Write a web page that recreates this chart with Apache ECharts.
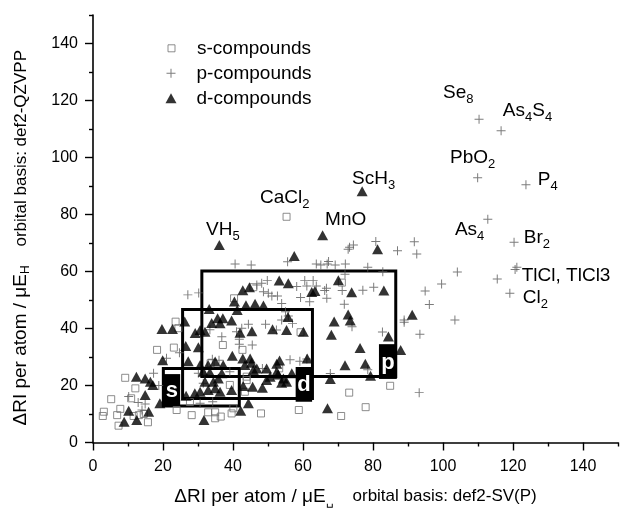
<!DOCTYPE html>
<html><head><meta charset="utf-8">
<script src="https://cdn.jsdelivr.net/npm/echarts@6/dist/echarts.min.js"></script>
<style>html,body{margin:0;padding:0;background:#fff}#c{width:620px;height:511px}</style>
</head><body><div id="c"></div><script>
const FONT = '"Liberation Sans", Arial, Helvetica, sans-serif';

const xMajorTicks = [0, 20, 40, 60, 80, 100, 120, 140];
const xMinorTicks = [10, 30, 50, 70, 90, 110, 130, 150];
const yMajorTicks = [0, 20, 40, 60, 80, 100, 120, 140];
const yMinorTicks = [10, 30, 50, 70, 90, 110, 130, 150];

const seriesNames = ['s-compounds', 'p-compounds', 'd-compounds'];

const sCompounds = [
[2.8,9.3],[3.1,10.8],[5.2,15.2],[6.9,9.6],[7.3,5.9],[7.8,11.8],[9.2,22.7],[10.9,15.5],[11.6,9.3],[12.1,19.0],[13.1,9.6],[14.5,10.0],[15.7,7.1],[18.3,32.5],[23.1,33.3],[23.6,42.4],[24.4,40.1],[23.9,11.4],[27.7,14.2],[28.2,9.6],[32.9,10.6],[33.6,27.8],[34.9,10.6],[34.9,8.5],[36.5,9.1],[37.1,34.2],[39.1,20.2],[39.6,10.2],[40.1,12.0],[40.3,50.6],[42.7,32.5],[43.4,17.8],[43.9,23.1],[43.9,21.9],[45.8,54.5],[48.0,10.2],[53.2,26.0],[55.3,79.2],[58.8,11.4],[59.3,38.7],[71.1,56.1],[70.9,9.3],[73.2,17.5],[77.9,12.4],[84.9,19.9]
];

const pCompounds = [
[110.3,113.4],[116.6,109.4],[109.9,92.9],[123.7,90.4],[112.8,78.3],[120.3,70.3],[121.1,61.5],[120.6,60.7],[115.5,57.4],[119.1,52.4],
[91.8,70.4],[92.5,66.1],[104.1,59.8],[99.6,55.6],[94.9,53.2],[96.1,48.4],[103.4,43.0],[88.9,43.0],[88.9,42.2],[93.4,38.0],[82.7,38.8],[78.5,25.5],[67.8,24.2],[93.2,17.5],
[80.8,70.5],[87.0,67.3],[72.9,67.8],[73.3,68.5],[74.4,69.3],[55.6,63.4],[40.6,62.6],[45.2,62.3],
[63.8,62.6],[65.1,62.3],[66.9,62.6],[67.3,63.5],[69.2,62.3],[72.1,62.6],[78.5,61.5],[82.8,59.9],[72.0,59.0],
[46.8,55.3],[48.2,55.9],[49.8,56.8],[58.2,54.7],[60.5,56.8],[61.1,54.9],[62.9,56.8],[63.8,54.9],[66.7,54.1],[66.2,53.3],[66.8,50.6],
[77.1,53.4],[80.2,54.5],[71.2,53.3],[71.8,48.5],[74.0,40.6],[61.9,49.4],
[48.7,52.9],[50.1,52.4],[51.1,51.4],[52.7,51.4],[59.3,50.9],[53.9,48.8],[55.0,45.9],[55.8,44.4],
[49.3,41.5],[53.9,43.0],[57.0,41.8],[52.4,39.5],[45.5,34.2],[44.4,41.5],[42.5,40.1],[41.0,38.9],[33.4,39.6],[36.8,37.1],
[41.8,36.2],[41.8,34.5],[34.1,29.2],[36.0,28.9],[48.4,26.0],[56.3,29.0],[59.1,28.5],[61.1,29.3],
[31.5,20.8],[30.6,13.8],[34.2,14.3],[30.1,24.3],[32.0,23.7],[39.1,24.8],
[24.7,31.5],[21.0,29.6],[17.3,24.3],[18.8,20.0],[10.2,16.1],[14.0,11.4],[12.9,14.0],[14.9,13.5],[27.1,51.8],[30.2,52.5]
];

const dCompounds = [
[8.9,7.3],[12.5,7.9],[10.2,11.1],[15.9,10.8],[19.1,13.8],[14.9,16.7],[17.1,20.2],[16.4,21.3],[14.9,22.5],[12.4,23.1],[19.9,28.9],
[26.6,16.4],[29.1,17.3],[30.6,17.8],[32.9,18.4],[34.9,19.0],[36.3,17.8],[39.6,18.4],[42.9,19.8],[45.6,19.6],[48.4,19.2],[49.6,21.9],[52.5,24.8],
[31.7,7.9],[42.2,11.1],[44.4,13.8],[67.0,12.0],
[31.5,24.8],[33.4,24.6],[32.0,21.3],[34.4,21.3],[35.8,22.5],[36.8,24.3],[50.6,23.1],[53.9,21.0],[55.3,21.3],[56.8,24.3],[52.9,23.9],[54.4,22.5],[45.8,25.4],
[27.2,28.5],[30.6,27.2],[32.9,27.2],[34.9,28.4],[37.2,27.2],[39.8,30.4],[42.8,29.5],[44.9,29.5],[43.4,27.2],[45.3,28.0],[46.8,26.0],[49.6,26.0],[52.5,27.6],[53.3,28.8],[61.2,29.5],
[26.5,33.9],[30.1,33.4],
[19.7,39.8],[22.7,39.8],[26.2,42.5],[29.2,38.4],[30.6,39.5],[32.0,38.9],[33.9,41.9],[35.6,43.6],[37.1,43.6],[36.3,41.8],[39.6,42.8],[42.0,38.5],[45.4,39.0],[51.3,39.7],[55.3,39.5],[60.1,38.9],[55.7,44.0],
[33.2,46.8],[41.2,46.5],[40.4,49.5],[43.7,48.2],[46.3,48.7],[48.7,48.1],
[42.8,53.4],[44.7,54.5],[53.2,56.8],[55.8,55.9],[62.5,52.8],[63.4,53.2],[70.1,56.9],[73.9,52.7],[83.1,53.3],
[72.9,44.9],[73.5,42.8],[68.9,42.5],[68.1,37.8],[84.4,37.2],[91.2,44.8],[87.9,32.5],[76.3,33.2],[77.8,27.6],[79.3,23.4],[72.0,27.1],[67.8,22.3],
[57.5,65.4],[81.3,67.8],[65.6,72.7],[76.9,88.2],[36.1,69.3]
];

// region boxes: [xMin, yMin, xMax, yMax]
const regionBoxes = [[20.1,12.8,41.8,26.0],[25.6,15.4,62.7,46.7],[31.1,23.2,86.5,60.2]];
// tag boxes for the regions
const tagBoxes = [[20.2,12.8,24.9,24.0],[57.9,14.3,62.6,26.5],[81.7,22.3,86.8,34.5]];
const tagLetters = ['s', 'd', 'p'];

// compound annotations: anchor (left, middle) and rich text
const annotationPos = [[100.0,122.6],[117.1,116.3],[102.0,100.0],[127.1,92.1],[103.4,74.6],[123.1,71.9],[122.5,58.6],[122.8,50.8],[74.0,92.6],[47.7,85.8],[66.3,78.2],[32.3,74.6]];
const annotationText = ['{n|Se}{s|8}','{n|As}{s|4}{n|S}{s|4}','{n|PbO}{s|2}','{n|P}{s|4}','{n|As}{s|4}','{n|Br}{s|2}','{n|TlCl, TlCl3}','{n|Cl}{s|2}','{n|ScH}{s|3}','{n|CaCl}{s|2}','{n|MnO}','{n|VH}{s|5}'];

const xTitle = '{a|ΔRI per atom / μE}{sub|␣}    orbital basis: def2-SV(P)';
const yTitle = '{a|ΔRI per atom / μE}{sub|H}    orbital basis: def2-QZVPP';

const plusPath = 'path://M0,4.45H10V5.55H0Z M4.45,0H5.55V10H4.45Z';
const axisCol = '#000';

const chart = echarts.init(document.getElementById('c'), null, {renderer: 'canvas'});

function majorAxis(dim, ticks, name, nameGap, namePad, labelMargin) {
  return {
    type: 'value', min: 0, max: 150,
    position: dim === 'x' ? 'bottom' : 'left',
    axisLine: {show: true, onZero: false, lineStyle: {color: axisCol, width: 1.6}},
    axisTick: {show: true, customValues: ticks, length: 8, lineStyle: {color: axisCol, width: 1.4}},
    axisLabel: {customValues: ticks, fontSize: 16, color: '#000', fontFamily: FONT, margin: labelMargin},
    splitLine: {show: false},
    name: name, nameLocation: 'middle', nameGap: nameGap,
    nameTextStyle: {fontSize: 17, color: '#000', fontFamily: FONT, lineHeight: 22, padding: namePad,
      rich: {
        a: {fontSize: 19, fontFamily: FONT, color: '#000', lineHeight: 22},
        sub: {fontSize: 12, fontFamily: FONT, color: '#000', verticalAlign: 'bottom', lineHeight: 12}
      }}
  };
}
function minorAxis(dim, ticks) {
  return {
    type: 'value', min: 0, max: 150,
    position: dim === 'x' ? 'bottom' : 'left',
    axisLine: {show: false},
    axisTick: {show: true, customValues: ticks, length: 4, lineStyle: {color: axisCol, width: 1.4}},
    axisLabel: {show: false},
    splitLine: {show: false}
  };
}

function legendFor(name, icon, w, h, cy, style, pad) {
  return {
    data: [{name: name, icon: icon, itemStyle: style}],
    orient: 'vertical', left: 171 - w / 2, top: cy - 10, padding: 0,
    itemWidth: w, itemHeight: h, selectedMode: false,
    textStyle: {fontSize: 19, fontFamily: FONT, color: '#000', lineHeight: 20, padding: [0, 0, 0, pad]}
  };
}

const squareStyle = {color: 'rgba(255,255,255,0)', borderColor: '#707070', borderWidth: 1};
const plusStyle = {color: '#5a5a5a'};
const triStyle = {color: '#000'};

const option = {
  animation: false,
  backgroundColor: '#fff',
  grid: {left: 93, right: 2, top: 15, bottom: 68.5, containLabel: false, outerBoundsMode: 'none'},
  xAxis: [majorAxis('x', xMajorTicks, xTitle, 43, [0, 0, 0, 0], 16), minorAxis('x', xMinorTicks)],
  yAxis: [majorAxis('y', yMajorTicks, yTitle, 61, [0, 18, 0, 0], 15), minorAxis('y', yMinorTicks)],
  legend: [
    legendFor(seriesNames[0], 'rect', 7, 7, 48.3, squareStyle, 17),
    legendFor(seriesNames[1], plusPath, 9, 9, 73.3, plusStyle, 16),
    legendFor(seriesNames[2], 'triangle', 11, 10, 98.3, triStyle, 15)
  ],
  series: [
    {
      type: 'custom', name: 'regions', silent: true, z: 1,
      data: regionBoxes, encode: {x: [0, 2], y: [1, 3]},
      renderItem: function (params, api) {
        const a = api.coord([api.value(0), api.value(3)]);
        const b = api.coord([api.value(2), api.value(1)]);
        return {type: 'rect', shape: {x: a[0], y: a[1], width: b[0] - a[0], height: b[1] - a[1]},
          style: {fill: 'none', stroke: '#000', lineWidth: 3}};
      }
    },
    {type: 'scatter', name: seriesNames[0], data: sCompounds, z: 2, symbol: 'rect', symbolSize: 7, itemStyle: squareStyle},
    {type: 'scatter', name: seriesNames[1], data: pCompounds, z: 3, symbol: plusPath, symbolSize: 9, itemStyle: plusStyle},
    {type: 'scatter', name: seriesNames[2], data: dCompounds, z: 4, symbol: 'triangle', symbolSize: [11, 10], itemStyle: triStyle},
    {
      type: 'custom', name: 'tags', silent: true, z: 5,
      data: tagBoxes, encode: {x: [0, 2], y: [1, 3]},
      renderItem: function (params, api) {
        const a = api.coord([api.value(0), api.value(3)]);
        const b = api.coord([api.value(2), api.value(1)]);
        return {type: 'group', children: [
          {type: 'rect', shape: {x: a[0], y: a[1], width: b[0] - a[0], height: b[1] - a[1]}, style: {fill: '#000'}},
          {type: 'text', x: (a[0] + b[0]) / 2, y: (a[1] + b[1]) / 2 + 1,
            style: {text: tagLetters[params.dataIndex], fill: '#fff', fontSize: 22, fontWeight: 'bold', fontFamily: FONT, align: 'center', verticalAlign: 'middle'}}
        ]};
      }
    },
    {
      type: 'custom', name: 'annotations', silent: true, z: 6,
      data: annotationPos, encode: {x: 0, y: 1},
      renderItem: function (params, api) {
        const p = api.coord([api.value(0), api.value(1)]);
        return {type: 'text', x: p[0], y: p[1],
          style: {text: annotationText[params.dataIndex], fill: '#000', align: 'left', verticalAlign: 'middle',
            rich: {n: {fontSize: 19, fontFamily: FONT, color: '#000', lineHeight: 26},
                   s: {fontSize: 13, fontFamily: FONT, color: '#000', verticalAlign: 'bottom', lineHeight: 13}}}};
      }
    }
  ]
};
chart.setOption(option);
</script></body></html>
